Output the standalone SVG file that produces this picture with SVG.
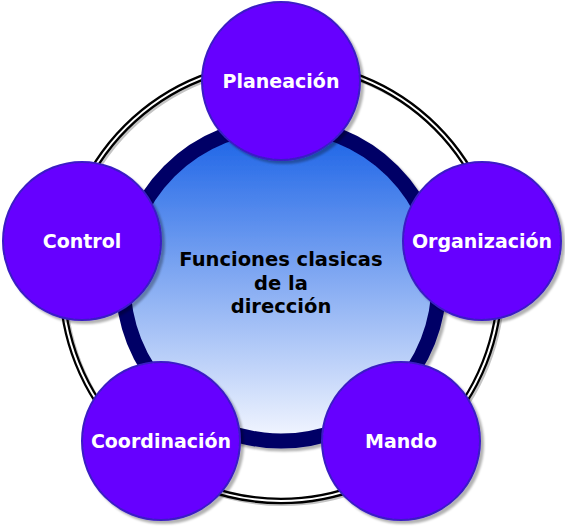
<svg xmlns="http://www.w3.org/2000/svg" width="565" height="526" viewBox="0 0 565 526">
<defs>
<linearGradient id="g" x1="0" y1="0" x2="0" y2="1">
<stop offset="0" stop-color="#1760e6"/>
<stop offset="1" stop-color="#f4f7ff"/>
</linearGradient>
<filter id="sh" x="-10%" y="-10%" width="130%" height="130%">
<feGaussianBlur in="SourceAlpha" stdDeviation="1"/>
<feOffset dx="3" dy="3" result="b"/>
<feFlood flood-color="#000" flood-opacity="0.3"/>
<feComposite in2="b" operator="in"/>
<feMerge><feMergeNode/><feMergeNode in="SourceGraphic"/></feMerge>
</filter>
</defs>
<style>
.node circle{fill:#6600ff;stroke:#3a1cc4;stroke-width:2;filter:url(#sh)}
.node text{font-family:"DejaVu Sans",Verdana,sans-serif;font-weight:bold;font-size:19px;fill:#fff;text-anchor:middle}
.center text{font-family:"DejaVu Sans",Verdana,sans-serif;font-weight:bold;font-size:19.5px;fill:#000;text-anchor:middle}
</style>
<g id="ring">
<circle cx="283" cy="284" r="219" fill="none" stroke="#c4c4c4" stroke-width="6"/>
<circle cx="281" cy="282" r="219" fill="none" stroke="#000" stroke-width="6.5"/>
<circle cx="281" cy="282" r="219" fill="none" stroke="#fff" stroke-width="2"/>
</g>
<g id="center" class="center">
<circle cx="281" cy="283" r="158" fill="url(#g)" stroke="#000066" stroke-width="15" filter="url(#sh)"/>
<text x="281" y="266">Funciones clasicas</text>
<text x="281" y="290">de la</text>
<text x="281" y="313">dirección</text>
</g>
<g id="connectors"></g>
<g id="planeacion" class="node"><circle cx="281" cy="81" r="79"/><text x="281" y="88">Planeación</text></g>
<g id="control" class="node"><circle cx="82" cy="241" r="79"/><text x="82" y="248">Control</text></g>
<g id="organizacion" class="node"><circle cx="482" cy="241" r="79"/><text x="482" y="248">Organización</text></g>
<g id="coordinacion" class="node"><circle cx="161" cy="441" r="79"/><text x="161" y="448">Coordinación</text></g>
<g id="mando" class="node"><circle cx="401" cy="441" r="79"/><text x="401" y="448">Mando</text></g>
</svg>
